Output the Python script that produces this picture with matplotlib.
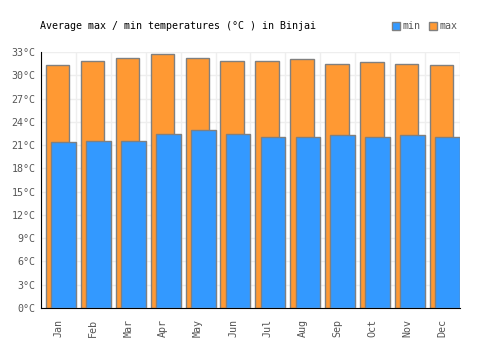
import matplotlib
matplotlib.use("Agg")
import matplotlib.pyplot as plt
import numpy as np

months = ["Jan", "Feb", "Mar", "Apr", "May", "Jun",
          "Jul", "Aug", "Sep", "Oct", "Nov", "Dec"]
t_max = [31.4, 31.8, 32.3, 32.7, 32.3, 31.9, 31.8, 32.1, 31.5, 31.7, 31.5, 31.4]
t_min = [21.4, 21.6, 21.6, 22.5, 23.0, 22.5, 22.1, 22.1, 22.3, 22.1, 22.3, 22.1]
y_ticks = list(range(0, 34, 3))

plt.rcParams["font.family"] = ["DejaVu Sans Mono"]
plt.rcParams["font.size"] = 7.2

fig = plt.figure(figsize=(5, 3.5), dpi=100)
ax = fig.add_axes([0.082, 0.12, 0.838, 0.731])

x = np.arange(len(months))
ax.bar(x - 0.025, t_max, width=0.67, color="#ff9933", edgecolor="#808080",
       linewidth=1, label="max", zorder=2)
ax.bar(x + 0.145, t_min, width=0.71, color="#3399ff", edgecolor="#808080",
       linewidth=1, label="min", zorder=3)

ax.set_xlim(-0.5, len(months) - 0.5)
ax.set_ylim(0, 33)
ax.set_yticks(y_ticks)
ax.set_yticklabels([f"{v}°C" for v in y_ticks], color="#555555")
ax.set_xticks(x)
ax.set_xticklabels(months, rotation=90, color="#555555")
ax.set_xticks(np.arange(-0.5, len(months), 1), minor=True)
ax.tick_params(axis="both", which="both", length=0)
ax.tick_params(axis="x", pad=8)
ax.tick_params(axis="y", pad=4)

ax.grid(True, axis="y", color="#eeeeee", linewidth=1, zorder=0)
ax.grid(True, axis="x", which="minor", color="#eeeeee", linewidth=1, zorder=0)
ax.set_axisbelow(True)
for side in ["top", "right"]:
    ax.spines[side].set_visible(False)
ax.spines["left"].set_color("black")
ax.spines["bottom"].set_color("black")

fig.text(0.08, 0.925, "Average max / min temperatures (°C ) in Binjai",
         ha="left", va="center", color="black")

handles, labels = ax.get_legend_handles_labels()
leg = fig.legend(handles[::-1], labels[::-1], ncol=2, frameon=False,
                 loc="center right", bbox_to_anchor=(0.925, 0.925),
                 handlelength=0.8, handleheight=0.8, handletextpad=0.3,
                 columnspacing=0.8, borderpad=0)
for t in leg.get_texts():
    t.set_color("#555555")

fig.savefig("out.png", dpi=100)
